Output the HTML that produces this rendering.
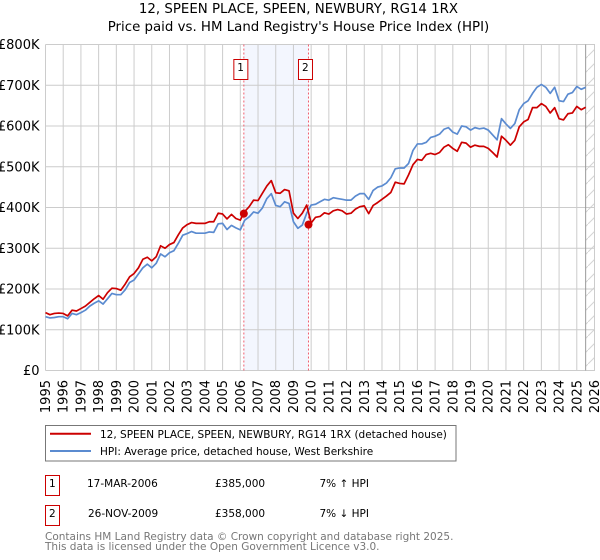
<!DOCTYPE html>
<html>
<head>
<meta charset="utf-8">
<title>12, SPEEN PLACE price chart</title>
<style>
html,body{margin:0;padding:0;background:#fff;width:600px;height:560px;overflow:hidden}
svg{display:block;font-family:"DejaVu Sans","Liberation Sans",sans-serif}
text{fill:#000}
</style>
</head>
<body>
<svg id="chart" width="600" height="560" viewBox="0 0 600 560" xmlns="http://www.w3.org/2000/svg">
  <defs>
    <pattern id="hatch" patternUnits="userSpaceOnUse" width="14" height="14">
      <path d="M0 14L14 0" stroke="#d4d4d4" stroke-width="1" fill="none"/>
    </pattern>
  </defs>
  <text x="298.5" y="13" font-size="13.35" text-anchor="middle">12, SPEEN PLACE, SPEEN, NEWBURY, RG14 1RX</text>
  <text x="298.5" y="31" font-size="13.35" text-anchor="middle">Price paid vs. HM Land Registry's House Price Index (HPI)</text>
  <g id="plot"></g>

  <g>
    <rect x="45.5" y="425.5" width="410.5" height="35.5" fill="#fff" stroke="#777" stroke-width="1"/>
    <line x1="50" x2="91" y1="433.8" y2="433.8" stroke="#cc0000" stroke-width="2"/>
    <text x="100" y="438" font-size="10.5">12, SPEEN PLACE, SPEEN, NEWBURY, RG14 1RX (detached house)</text>
    <line x1="50" x2="91" y1="451" y2="451" stroke="#5b8bd0" stroke-width="2"/>
    <text x="100" y="455" font-size="10.5">HPI: Average price, detached house, West Berkshire</text>
  </g>

  <g>
    <rect x="45.5" y="475.5" width="14" height="20" fill="#fff" stroke="#cc0000" stroke-width="1"/>
    <text x="52.3" y="487" font-size="10.5" text-anchor="middle">1</text>
    <text x="87" y="487" font-size="10.5">17-MAR-2006</text>
    <text x="215" y="487" font-size="10.5">£385,000</text>
    <text x="319.5" y="487" font-size="10.5">7% ↑ HPI</text>
  </g>
  <g>
    <rect x="45.5" y="505.5" width="14" height="20" fill="#fff" stroke="#cc0000" stroke-width="1"/>
    <text x="52.3" y="517" font-size="10.5" text-anchor="middle">2</text>
    <text x="88" y="517" font-size="10.5">26-NOV-2009</text>
    <text x="215" y="517" font-size="10.5">£358,000</text>
    <text x="319.5" y="517" font-size="10.5">7% ↓ HPI</text>
  </g>
  <text x="45" y="540" font-size="10.5" style="fill:#777">Contains HM Land Registry data © Crown copyright and database right 2025.</text>
  <text x="45" y="550" font-size="10.5" style="fill:#777">This data is licensed under the Open Government Licence v3.0.</text>
</svg>
<script>
const yearLabels = [1995,1996,1997,1998,1999,2000,2001,2002,2003,2004,2005,2006,2007,2008,2009,2010,2011,2012,2013,2014,2015,2016,2017,2018,2019,2020,2021,2022,2023,2024,2025,2026];
const yTickValues = [0,100,200,300,400,500,600,700,800];
const yTickLabels = ["£0","£100K","£200K","£300K","£400K","£500K","£600K","£700K","£800K"];
const seriesStartYear = 1995;
const samplesPerYear = 4;
// Quarterly values in £ thousands
const priceSeries = [142,137,140,141,140,134,148,146,152,158,167,176,184,175,191,202,201,197,212,230,238,252,273,278,269,279,306,300,309,314,333,350,358,363,361,361,361,365,365,386,384,372,383,373,369,390,402,418,417,435,453,466,436,435,444,441,386,373,386,406,362,376,378,387,384,392,395,392,384,386,396,402,404,385,405,412,420,428,437,462,459,458,480,505,518,516,530,533,530,535,548,554,545,538,560,558,548,553,550,550,545,535,524,575,565,553,565,598,610,616,645,645,655,648,632,645,618,615,630,632,648,640,646];
const hpiSeries = [132,129,130,132,132,127,140,137,142,148,158,165,171,163,176,189,186,186,198,216,222,237,252,261,252,263,286,279,289,294,312,332,336,341,337,337,337,340,339,360,361,346,356,350,345,369,377,389,386,399,422,434,405,402,414,410,365,349,357,386,406,408,414,420,418,424,422,420,418,418,428,434,434,420,442,450,453,460,473,495,497,497,508,540,556,556,560,572,575,580,592,596,585,580,600,598,590,596,593,595,590,578,566,618,605,594,606,640,655,662,680,695,702,695,680,695,662,660,678,682,697,690,695];
const saleDates = [2006.2,2009.85];
const salePrices = [385,358];
const saleLabels = ["1","2"];
const dataEndYear = 2025.5;

const NS = 'http://www.w3.org/2000/svg';
const plot = document.getElementById('plot');
const L = 45.5, R = 594.5, T = 44.5, B = 370.5;
const xScale = y => L + (y - 1995) * (R - L) / 31;
const yScale = v => B - v * (B - T) / 800;
function make(tag, attrs, parent) {
  const el = document.createElementNS(NS, tag);
  for (const k in attrs) el.setAttribute(k, attrs[k]);
  (parent || plot).appendChild(el);
  return el;
}

// shaded holding period
const band = make('rect', {x: xScale(saleDates[0]), y: T, width: xScale(saleDates[1]) - xScale(saleDates[0]), height: B - T, fill: '#f3f6fe'});



// hatched future region
const hatch = make('rect', {x: xScale(dataEndYear), y: T, width: R - xScale(dataEndYear), height: B - T, fill: 'url(#hatch)'});



// grid + y ticks
yTickValues.forEach((v, i) => {
  const g = make('line', {x1: L, x2: R + 0.5, y1: yScale(v), y2: yScale(v), stroke: '#ccc', 'stroke-width': 1});
  
  
  const t = make('text', {x: 39.5, y: yScale(v) + 4.5, 'font-size': 13, 'text-anchor': 'end'});
  
  
  t.textContent = yTickLabels[i];
});

// grid + x ticks
yearLabels.forEach(y => {
  const x = xScale(y);
  const g = make('line', {x1: x, x2: x, y1: T, y2: B, stroke: '#ccc', 'stroke-width': 1});
  
  
  const t = make('text', {transform: 'translate(' + (x + 4.5) + ',380) rotate(-90)', 'font-size': 13, 'text-anchor': 'end'});
  
  
  t.textContent = y;
});

// data-end line
const endLine = make('line', {x1: xScale(dataEndYear), x2: xScale(dataEndYear), y1: T, y2: B, stroke: '#999', 'stroke-width': 1});



// sale dashed lines
saleDates.forEach(d => {
  const l = make('line', {x1: xScale(d), x2: xScale(d), y1: T, y2: B, stroke: '#f06070', 'stroke-width': 1, 'stroke-dasharray': '2 2'});
  
  
});

function seriesPath(values) {
  return values.map((v, i) => (i ? 'L' : 'M') + xScale(seriesStartYear + i / samplesPerYear).toFixed(2) + ' ' + yScale(v).toFixed(2)).join('');
}
const hpiLine = make('path', {d: seriesPath(hpiSeries), fill: 'none', stroke: '#5b8bd0', 'stroke-width': 1.7, 'stroke-linejoin': 'round'});


const priceLine = make('path', {d: seriesPath(priceSeries), fill: 'none', stroke: '#cc0000', 'stroke-width': 1.7, 'stroke-linejoin': 'round'});



// sale markers and labels
saleDates.forEach((d, i) => {
  const c = make('circle', {cx: xScale(d), cy: yScale(salePrices[i]), r: 4, fill: '#cc0000'});
  
  
  const b = make('rect', {x: xScale(d) - 10, y: 59.5, width: 14, height: 20, fill: '#fff', stroke: '#cc0000', 'stroke-width': 1});
  
  
  const t = make('text', {x: xScale(d) - 3.2, y: 71, 'font-size': 10.5, 'text-anchor': 'middle'});
  
  
  t.textContent = saleLabels[i];
});
</script>
</body>
</html>
